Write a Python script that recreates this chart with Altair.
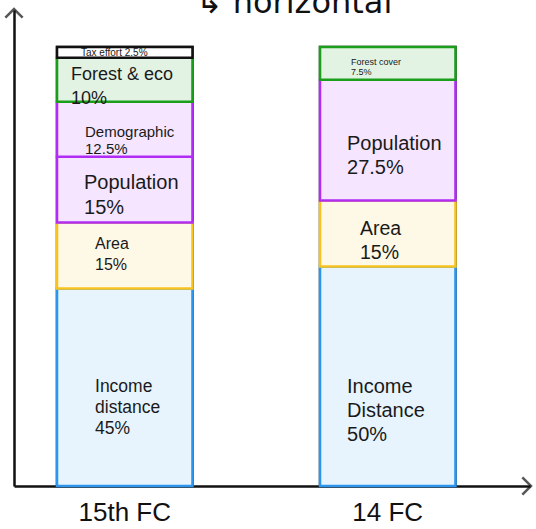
import altair as alt
import pandas as pd

# Finance Commission criteria weights (percent of the divisible pool)
commissions = ["15th FC", "14 FC"]
bar_fc = ["15th FC"] * 6 + ["14 FC"] * 4
criteria = ["Income distance", "Area", "Population", "Demographic", "Forest & eco", "Tax effort",
            "Income Distance", "Area", "Population", "Forest cover"]
weights = [45, 15, 15, 12.5, 10, 2.5, 50, 15, 27.5, 7.5]
groups = ["income", "area", "population", "population", "forest", "tax",
          "income", "area", "population", "forest"]

# label styling per segment: font size, line height, left indent and vertical nudge (px)
label_size = [17.5, 16, 20, 15, 18, 10, 20, 19.5, 20, 9]
label_line = [21, 21, 24.5, 17, 24, 10, 24, 24, 24, 10]
label_indent = [38, 38, 27, 28, 14, 24, 27, 40, 27, 31]
label_dy = [0, -11, -6.5, 3, -4.5, 1, 11, -5, 4, -1]

group_domain = ["income", "area", "population", "forest", "tax"]
fill_range = ["#e7f4fe", "#fef8e6", "#f5e5fe", "#e2f3e4", "#ffffff"]
stroke_range = ["#2b95f0", "#f8c31e", "#b12cf5", "#1b9e1b", "#111111"]


def make_label(name, w):
    pct = f"{w:g}%"
    if name.startswith("Income"):
        return name.replace(" ", "\n") + "\n" + pct
    if name == "Tax effort":
        return f"{name} {pct}"
    return f"{name}\n{pct}"


df = pd.DataFrame({"fc": bar_fc, "criterion": criteria, "weight": weights, "group": groups})
df["id"] = range(len(df))
df["y1"] = df.groupby("fc")["weight"].cumsum()
df["y0"] = df["y1"] - df["weight"]
df["mid"] = (df["y0"] + df["y1"]) / 2
df["label"] = [make_label(n, w) for n, w in zip(criteria, weights)]

totals = df.groupby("fc", as_index=False)["weight"].sum()

x_scale = alt.Scale(domain=commissions, paddingInner=0.485, paddingOuter=0.2235, align=0.366)
y_scale = alt.Scale(domain=[0, 108.4], nice=False)

x_enc = alt.X("fc:N", scale=x_scale, sort=commissions,
              axis=alt.Axis(title=None, ticks=False, labelAngle=0, labelFontSize=26,
                            labelFont="Liberation Sans", labelColor="#111", labelPadding=13,
                            domainColor="#111", domainWidth=2.5))
y_axis = alt.Axis(title=None, labels=False, ticks=False, grid=False,
                  domainColor="#111", domainWidth=2.5)

outline = alt.Chart(totals).mark_bar(fill="white", stroke="#111", strokeWidth=2.5).encode(
    x=x_enc,
    y=alt.Y("weight:Q", scale=y_scale, axis=y_axis),
)

segments = alt.Chart(df).mark_bar(strokeWidth=2.5).encode(
    x=alt.X("fc:N", scale=x_scale, sort=commissions),
    y=alt.Y("y0:Q", scale=y_scale),
    y2="y1:Q",
    fill=alt.Fill("group:N", scale=alt.Scale(domain=group_domain, range=fill_range), legend=None),
    stroke=alt.Stroke("group:N", scale=alt.Scale(domain=group_domain, range=stroke_range), legend=None),
)

labels = []
for i in range(len(df)):
    labels.append(
        alt.Chart(df).transform_filter(alt.datum.id == i).mark_text(
            align="left", baseline="middle", lineBreak="\n", font="Liberation Sans",
            color="#1a1a1a", dx=label_indent[i], dy=label_dy[i],
            fontSize=label_size[i], lineHeight=label_line[i],
        ).encode(
            x=alt.X("fc:N", scale=x_scale, sort=commissions, bandPosition=0),
            y=alt.Y("mid:Q", scale=y_scale),
            text="label:N",
        )
    )

# arrowheads on the ends of both axes
anchor = pd.DataFrame({"a": [0]})
y_arrow = alt.Chart(anchor).mark_point(
    shape="M-1,1L0,0L1,1", size=300, filled=False, stroke="#111", strokeWidth=2.5
).encode(x=alt.value(0), y=alt.value(-1))
x_arrow = alt.Chart(anchor).mark_point(
    shape="M-1,-1L0,0L-1,1", size=300, filled=False, stroke="#111", strokeWidth=2.5
).encode(x=alt.value(517), y=alt.value(476))

note = alt.Chart(anchor).mark_text(
    text="↳ horizontal", fontSize=32, font="DejaVu Sans", color="#111",
    align="center", baseline="alphabetic"
).encode(x=alt.value(280), y=alt.value(3))

chart = alt.layer(outline, segments, *labels, y_arrow, x_arrow, note).properties(
    width=516, height=476,
    autosize=alt.AutoSizeParams(type="none"),
    padding={"left": 14, "top": 10, "right": 6, "bottom": 43},
).configure_view(stroke=None)

chart.save("out.html", embed_options={"renderer": "svg", "actions": False})
